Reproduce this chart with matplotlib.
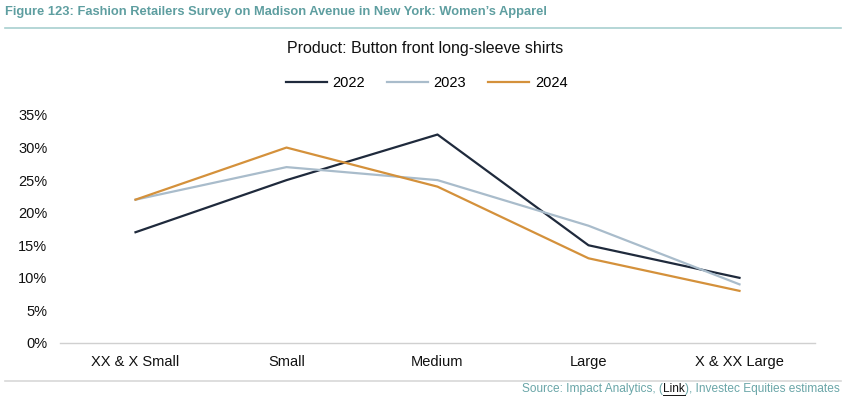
import matplotlib
matplotlib.use("Agg")
import matplotlib.pyplot as plt
import numpy as np

plt.rcParams['font.family'] = ['Liberation Sans', 'DejaVu Sans']

# data
sizes = ["XX & X Small", "Small", "Medium", "Large", "X & XX Large"]
share_2022 = [17, 25, 32, 15, 10]
share_2023 = [22, 27, 25, 18, 9]
share_2024 = [22, 30, 24, 13, 8]
years = ["2022", "2023", "2024"]
colors = ["#1f2a3c", "#a9bccb", "#d4913b"]

fig = plt.figure(figsize=(8.45, 3.99), dpi=100)
ax = fig.add_axes([0.071, 0.1404, 0.8935, 0.5714])

x = np.arange(len(sizes))
for vals, lab, c in zip([share_2022, share_2023, share_2024], years, colors):
    ax.plot(x, np.array(vals) / 100, color=c, lw=1.6, label=lab)

ax.set_xlim(-0.5, len(sizes) - 0.5)
ax.set_ylim(0, 0.35)
yt = np.arange(0, 0.36, 0.05)
ax.set_yticks(yt)
ax.set_yticklabels([f"{int(round(v * 100))}%" for v in yt])
ax.set_xticks(x)
ax.set_xticklabels(sizes)
ax.tick_params(axis='both', length=0, labelsize=10.5, colors='#111111')
ax.tick_params(axis='x', pad=9)
ax.tick_params(axis='y', pad=9)
for s in ['top', 'right', 'left']:
    ax.spines[s].set_visible(False)
ax.spines['bottom'].set_color('#d0d0d0')
ax.spines['bottom'].set_linewidth(1.0)

fig.text(0.503, 0.878, "Product: Button front long-sleeve shirts", ha='center', va='center',
         fontsize=11.5, color='#111111')
fig.legend(loc='center', bbox_to_anchor=(0.505, 0.792), ncol=3, frameon=False,
           fontsize=10.5, handlelength=2.8, columnspacing=1.5, handletextpad=0.4)

# header and footer
fig.text(0.006, 0.970, "Figure 123: Fashion Retailers Survey on Madison Avenue in New York: Women\u2019s Apparel",
         ha='left', va='center', fontsize=9.3, fontweight='bold', color='#5e9ea0')
fig.add_artist(plt.Line2D([0.006, 0.995], [0.93, 0.93], color='#a8cfd0', lw=1.2))
fig.add_artist(plt.Line2D([0.006, 0.995], [0.045, 0.045], color='#d8d8d8', lw=1.2))

# source line with underlined "Link"
src_color = '#6aa6a8'
parts = ["Source: Impact Analytics, (", "Link", "), Investec Equities estimates"]
part_colors = [src_color, '#111111', src_color]
fig.canvas.draw()
renderer = fig.canvas.get_renderer()
xr = 0.994 * fig.bbox.width
for txt, c in zip(reversed(parts), reversed(part_colors)):
    t = fig.text(xr / fig.bbox.width, 0.025, txt, ha='right', va='center', fontsize=8.6, color=c)
    bb = t.get_window_extent(renderer)
    if txt == "Link":
        fig.add_artist(plt.Line2D([bb.x0 / fig.bbox.width, bb.x1 / fig.bbox.width],
                                  [(bb.y0 + 0.5) / fig.bbox.height] * 2, color='#111111', lw=0.7))
    xr = bb.x0

fig.savefig("out.png", dpi=100)
